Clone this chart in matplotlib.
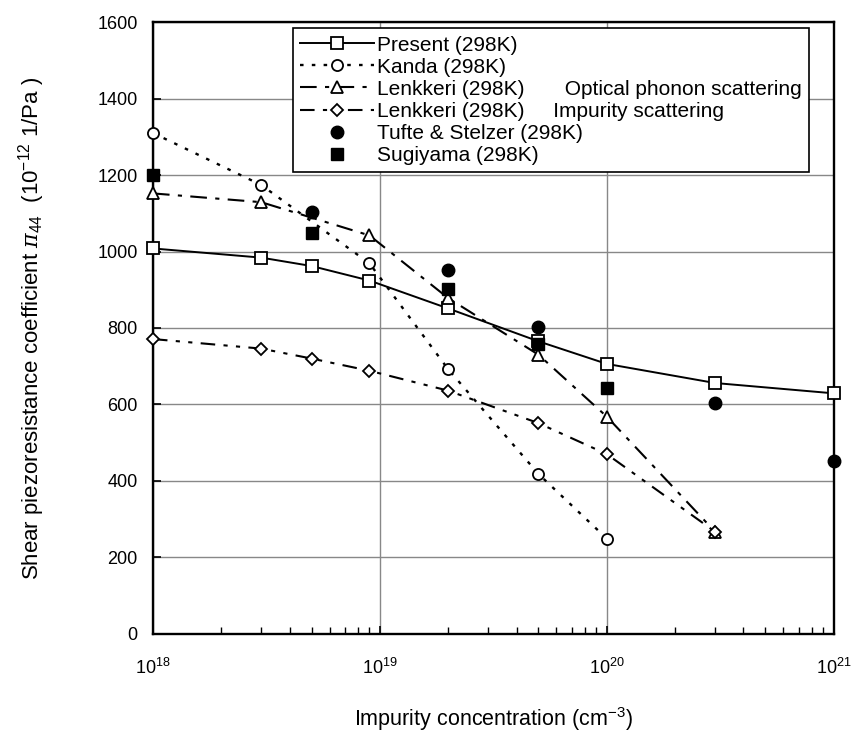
import numpy as np
import matplotlib
matplotlib.use('Agg')
import matplotlib.pyplot as plt
from matplotlib.ticker import LogLocator, NullFormatter

plt.rcParams['font.family'] = ['Liberation Sans', 'DejaVu Sans']
plt.rcParams['mathtext.fontset'] = 'custom'
plt.rcParams['mathtext.rm'] = 'Liberation Sans'
plt.rcParams['mathtext.it'] = 'DejaVu Serif:italic'

## data
x_present = [1e18, 3e18, 5e18, 9e18, 2e19, 5e19, 1e20, 3e20, 1e21]
y_present = [1008, 984, 962, 924, 851, 765, 706, 656, 629]

x_kanda = [1e18, 3e18, 9e18, 2e19, 5e19, 1e20]
y_kanda = [1310, 1174, 969, 692, 418, 249]

x_lenk_opt = [1e18, 3e18, 9e18, 2e19, 5e19, 1e20, 3e20]
y_lenk_opt = [1152, 1129, 1042, 878, 730, 568, 267]

x_lenk_imp = [1e18, 3e18, 5e18, 9e18, 2e19, 5e19, 1e20, 3e20]
y_lenk_imp = [771, 746, 720, 688, 636, 551, 470, 267]

x_tufte = [5e18, 2e19, 5e19, 3e20, 1e21]
y_tufte = [1104, 952, 803, 603, 452]

x_sugi = [1e18, 5e18, 2e19, 5e19, 1e20]
y_sugi = [1200, 1049, 902, 758, 642]

fig = plt.figure(figsize=(8.64, 7.37), dpi=100)
ax = fig.add_axes([0.177, 0.140, 0.788, 0.830])

open_kw = dict(color='black', markerfacecolor='white', markeredgecolor='black',
               markeredgewidth=1.3, markersize=8, zorder=3, clip_on=False)

ax.plot(x_present, y_present, '-', marker='s', lw=1.4, label='Present (298K)', **open_kw)
ax.plot(x_kanda, y_kanda, linestyle=(0, (1.5, 3.5)), marker='o', lw=1.7,
        label='Kanda (298K)', **open_kw)
ax.plot(x_lenk_opt, y_lenk_opt, linestyle=(0, (8, 4, 2, 4)), marker='^', lw=1.5,
        label='Lenkkeri (298K)       Optical phonon scattering', **open_kw)
ax.plot(x_lenk_imp, y_lenk_imp, linestyle=(0, (7, 4, 2, 4, 2, 4)), marker='D', lw=1.5,
        label='Lenkkeri (298K)     Impurity scattering',
        color='black', markerfacecolor='white', markeredgecolor='black',
        markeredgewidth=1.3, markersize=6.5, zorder=3, clip_on=False)
ax.plot(x_tufte, y_tufte, 'o', color='black', markersize=9, label='Tufte & Stelzer (298K)',
        zorder=4, clip_on=False)
ax.plot(x_sugi, y_sugi, 's', color='black', markersize=8.5, label='Sugiyama (298K)',
        zorder=4, clip_on=False)

ax.set_xscale('log')
ax.set_xlim(1e18, 1e21)
ax.set_ylim(0, 1600)
ax.set_yticks(np.arange(0, 1601, 200))
ax.xaxis.set_major_locator(LogLocator(base=10, numticks=10))
ax.xaxis.set_minor_locator(LogLocator(base=10, subs=np.arange(2, 10), numticks=20))
ax.xaxis.set_minor_formatter(NullFormatter())

ax.grid(True, which='major', color='#888888', lw=1.0)
ax.set_axisbelow(True)
for s in ax.spines.values():
    s.set_linewidth(1.7)

ax.tick_params(axis='both', which='major', direction='in', length=6, width=1.2, labelsize=13)
ax.tick_params(axis='x', which='minor', direction='in', length=5, width=1.0)
ax.tick_params(axis='x', which='major', pad=17)
ax.tick_params(axis='y', which='major', pad=11)

ax.set_xlabel('Impurity concentration (cm$^{-3}$)', fontsize=15.5, labelpad=20)
ax.set_ylabel(r'Shear piezoresistance coefficient $\pi_{44}$  (10$^{-12}$ 1/Pa )',
              fontsize=16, labelpad=36)

leg = ax.legend(loc='upper left', bbox_to_anchor=(0.2056, 0.99), fontsize=15,
                handlelength=3.55, handletextpad=0.15, borderpad=0.35, labelspacing=0.15,
                borderaxespad=0, fancybox=False, edgecolor='black', framealpha=1)
leg.get_frame().set_linewidth(1.2)

fig.savefig('out.png', dpi=100)
